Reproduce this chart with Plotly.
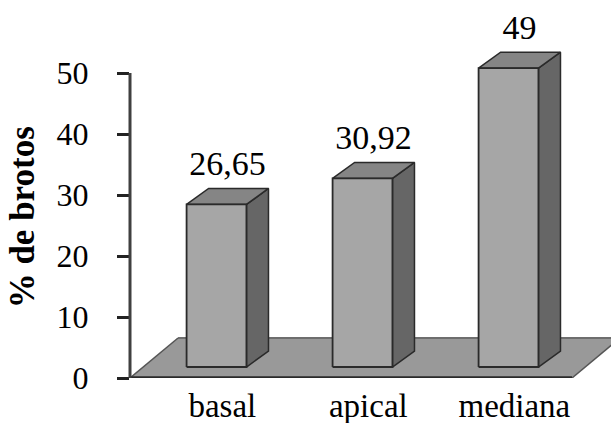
import plotly.graph_objects as go

# ---- data ----
categories = ["basal", "apical", "mediana"]
values = [26.65, 30.92, 49]
value_labels = ["26,65", "30,92", "49"]
y_ticks = [0, 10, 20, 30, 40, 50]
y_title = "% de brotos"

# ---- style / pseudo-3D geometry (in axis units) ----
FONT = "Liberation Serif"
X_MIN, X_MAX = -0.5925, 2.702
Y_MAX = 61.97
BAR_W = 0.41
DX, DY = 0.151, 2.62          # bar depth offset
BASE = 1.8                    # bar front face sits slightly behind floor front edge
FLOOR_DX, FLOOR_DY = 0.329, 6.56
LABEL_GAP = 3.6

C_FRONT = "#a6a6a6"
C_SIDE = "#666666"
C_TOP = "#858585"
C_FLOOR = "#999999"
C_EDGE = "#2a2a2a"

fig = go.Figure()

# floor
n = len(categories)
fl, fr = X_MIN, (n - 1) + 0.435
fig.add_trace(go.Scatter(
    x=[fl, fr, fr + FLOOR_DX, fl + FLOOR_DX, fl],
    y=[0, 0, FLOOR_DY, FLOOR_DY, 0],
    mode="lines", fill="toself", fillcolor=C_FLOOR,
    line=dict(width=0), hoverinfo="skip", showlegend=False))
fig.add_trace(go.Scatter(x=[fl + FLOOR_DX, fr + FLOOR_DX], y=[FLOOR_DY, FLOOR_DY],
                         mode="lines", line=dict(color="#6e6e6e", width=2),
                         hoverinfo="skip", showlegend=False))
fig.add_trace(go.Scatter(x=[fr, fr + FLOOR_DX], y=[0, FLOOR_DY],
                         mode="lines", line=dict(color="#555555", width=1.5),
                         hoverinfo="skip", showlegend=False))
fig.add_trace(go.Scatter(x=[fl, fl + FLOOR_DX], y=[0, FLOOR_DY],
                         mode="lines", line=dict(color="#555555", width=1.5),
                         hoverinfo="skip", showlegend=False))
fig.add_trace(go.Scatter(x=[fl, fr], y=[0, 0],
                         mode="lines", line=dict(color=C_EDGE, width=3.5),
                         hoverinfo="skip", showlegend=False))

# bars
for i, v in enumerate(values):
    x0, x1 = i - BAR_W / 2, i + BAR_W / 2
    y0, y1 = BASE, BASE + v
    # side face
    fig.add_trace(go.Scatter(
        x=[x1, x1 + DX, x1 + DX, x1, x1], y=[y0, y0 + DY, y1 + DY, y1, y0],
        mode="lines", fill="toself", fillcolor=C_SIDE,
        line=dict(color=C_EDGE, width=1.5), hoverinfo="skip", showlegend=False))
    # top face
    fig.add_trace(go.Scatter(
        x=[x0, x0 + DX, x1 + DX, x1, x0], y=[y1, y1 + DY, y1 + DY, y1, y1],
        mode="lines", fill="toself", fillcolor=C_TOP,
        line=dict(color=C_EDGE, width=1.5), hoverinfo="skip", showlegend=False))
    # front face
    fig.add_trace(go.Scatter(
        x=[x0, x1, x1, x0, x0], y=[y0, y0, y1, y1, y0],
        mode="lines", fill="toself", fillcolor=C_FRONT,
        line=dict(color=C_EDGE, width=1.8), hoverinfo="skip", showlegend=False))

# value labels
fig.add_trace(go.Scatter(
    x=[i + DX / 2 for i in range(n)],
    y=[BASE + v + DY + LABEL_GAP for v in values],
    text=value_labels, mode="text", textposition="middle center",
    textfont=dict(family=FONT, size=34, color="black"),
    cliponaxis=False, hoverinfo="skip", showlegend=False))

# y axis line (0..50 only)
fig.add_shape(type="line", xref="paper", yref="y", x0=0, x1=0, y0=0, y1=max(y_ticks),
              line=dict(color="#404040", width=3))

fig.add_annotation(text="<b>" + y_title + "</b>", textangle=-90,
                   xref="paper", yref="paper", x=-0.2245, y=0.425,
                   xanchor="center", yanchor="middle", showarrow=False,
                   font=dict(family=FONT, size=35, color="black"))

fig.update_layout(
    width=611, height=423,
    margin=dict(l=130, r=0, t=0, b=45),
    plot_bgcolor="white", paper_bgcolor="white",
    font=dict(family=FONT),
    xaxis=dict(range=[X_MIN, X_MAX], showgrid=False, zeroline=False, showline=False,
               tickvals=[i + 0.04 for i in range(n)], ticktext=categories,
               ticks="", ticklabelstandoff=5,
               tickfont=dict(family=FONT, size=33, color="black")),
    yaxis=dict(range=[0, Y_MAX], showgrid=False, zeroline=False, showline=False,
               tickvals=y_ticks, ticks="outside", ticklen=12, tickwidth=3,
               tickcolor="#222222", ticklabelstandoff=22,
               tickfont=dict(family=FONT, size=32, color="black")),
)

fig.write_html("out.html", config={"displayModeBar": False},
               post_script="document.body.style.margin='0';document.body.style.padding='0';")
